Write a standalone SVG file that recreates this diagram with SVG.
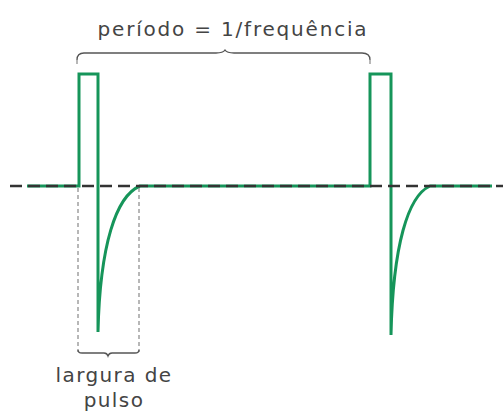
<svg xmlns="http://www.w3.org/2000/svg" width="503" height="414" viewBox="0 0 503 414">
<style>
.wave{fill:none;stroke:#16955a;stroke-width:3;stroke-linejoin:miter}
.base{stroke:#333;stroke-width:2.5;stroke-dasharray:12 6}
.guide{stroke:#888;stroke-width:1.2;stroke-dasharray:4 3;fill:none}
.brace{fill:none;stroke:#555;stroke-width:1.3}
.lbl{font-family:"DejaVu Sans",Verdana,sans-serif;font-size:20px;letter-spacing:1.4px;fill:#444;text-anchor:middle}
.wide{letter-spacing:1.8px}
</style>
<rect width="503" height="414" fill="#fff"/>
<g id="signal">
<path class="wave" d="M27,186 H79 V74 H98 V332 M98,332 C100,245 116,196 140,186 H370 V74 H391 V335 M391,335 C393,245 408,196 430,186 H492"/>
</g>
<g id="axis">
<line class="base" x1="10" y1="186" x2="503" y2="186"/>
</g>
<g id="connectors">
<line class="guide" x1="78" y1="188" x2="78" y2="352"/>
<line class="guide" x1="139" y1="188" x2="139" y2="352"/>
<path class="guide" d="M77,64 V58 M370,64 V58"/>
</g>
<g id="period-brace">
<path class="brace" d="M77,60 Q77,53 84,53 H216 Q223,53 225,50 Q227,53 234,53 H362 Q370,53 370,60"/>
<text class="lbl wide" x="233" y="36">período = 1/frequência</text>
</g>
<g id="width-brace">
<path class="brace" d="M78,350 Q78,353 82,353 H104 Q107,353 108,356 Q109,353 112,353 H135 Q139,353 139,350"/>
<text class="lbl" x="114" y="382">largura de</text>
<text class="lbl" x="114" y="407">pulso</text>
</g>
</svg>
